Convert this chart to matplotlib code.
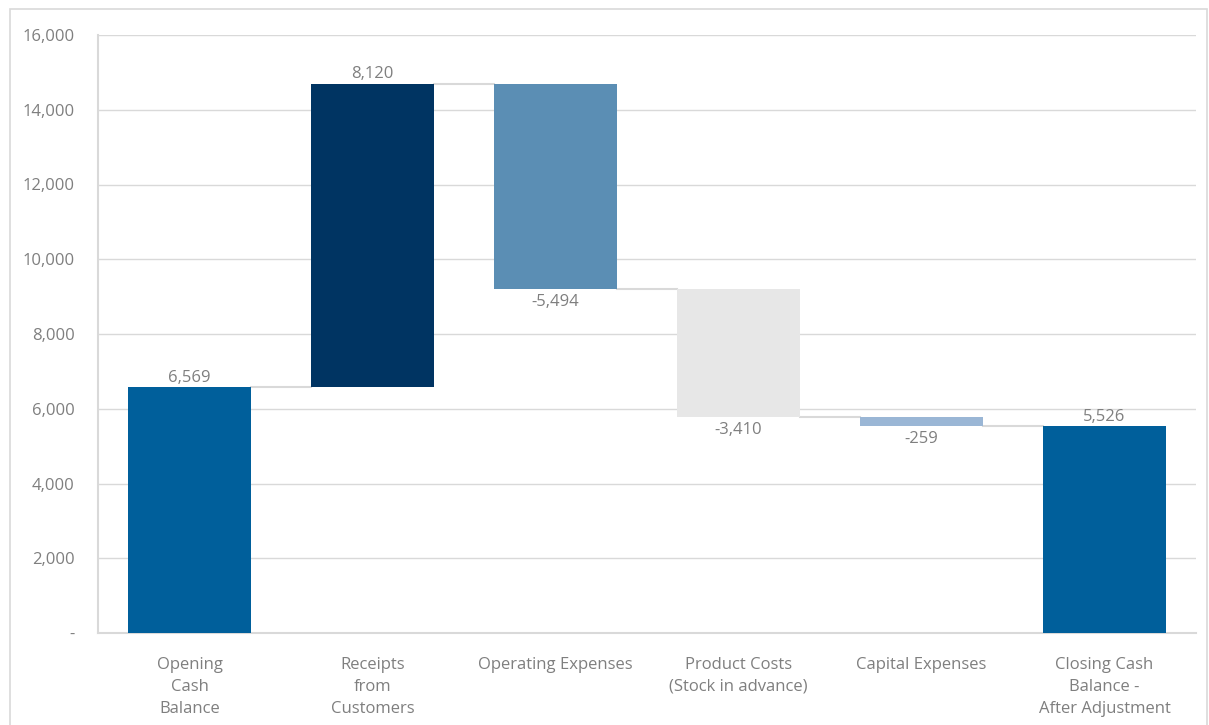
import matplotlib.pyplot as plt
from matplotlib.patches import Rectangle
from matplotlib.ticker import FuncFormatter

plt.rcParams['font.family'] = ['Open Sans', 'DejaVu Sans']

# waterfall data
categories = ['Opening\nCash\nBalance', 'Receipts\nfrom\nCustomers', 'Operating Expenses',
              'Product Costs\n(Stock in advance)', 'Capital Expenses',
              'Closing Cash\nBalance -\nAfter Adjustment']
values = [6569, 8120, -5494, -3410, -259, 5526]
is_total = [True, False, False, False, False, True]
colors = ['#005F9B', '#003462', '#5B8EB4', '#E7E7E7', '#9AB6D5', '#005F9B']

grey = '#7F7F7F'
line_grey = '#D9D9D9'

fig = plt.figure(figsize=(12.09, 7.25), dpi=100)
ax = fig.add_axes([98 / 1209, 1 - 633 / 725, 1098 / 1209, 598 / 725])

# outer chart frame
fig.patches.append(Rectangle((10 / 1209, -0.01), 1197 / 1209, 1 - 9 / 725 + 0.01,
                             transform=fig.transFigure, fill=False,
                             edgecolor=line_grey, linewidth=1.2))

width = 0.667
running = 0
for i, v in enumerate(values):
    if is_total[i]:
        b, t = 0, v
        running = v
    else:
        b, t = running, running + v
        running = running + v
    lo, hi = min(b, t), max(b, t)
    ax.bar(i, hi - lo, bottom=lo, width=width, color=colors[i], zorder=3)
    label = f'{v:,}'
    if v >= 0:
        ax.text(i, hi + 50, label, ha='center', va='bottom', color=grey, fontsize=12)
    else:
        ax.text(i, lo - 130, label, ha='center', va='top', color=grey, fontsize=12)

# connectors
level = 0
for i, v in enumerate(values[:-1]):
    level = v if is_total[i] else level + v
    ax.plot([i + width / 2, i + 1 - width / 2], [level, level], color=line_grey,
            linewidth=1.5, zorder=2)

ax.set_xlim(-0.5, len(values) - 0.5)
ax.set_ylim(0, 16000)
ax.set_yticks(range(0, 16001, 2000))
ax.yaxis.set_major_formatter(FuncFormatter(lambda y, p: '-' if y == 0 else f'{int(y):,}'))
ax.set_xticks(range(len(values)))
ax.set_xticklabels(categories, linespacing=1.5)
ax.tick_params(axis='both', length=0, colors=grey, labelsize=12)
ax.tick_params(axis='y', pad=17)
ax.tick_params(axis='x', pad=17)
ax.grid(axis='y', color=line_grey, linewidth=1, zorder=0)
for s in ['top', 'right']:
    ax.spines[s].set_visible(False)
for s in ['left', 'bottom']:
    ax.spines[s].set_color(line_grey)
    ax.spines[s].set_linewidth(1.5)

fig.savefig('out.png', dpi=100)
